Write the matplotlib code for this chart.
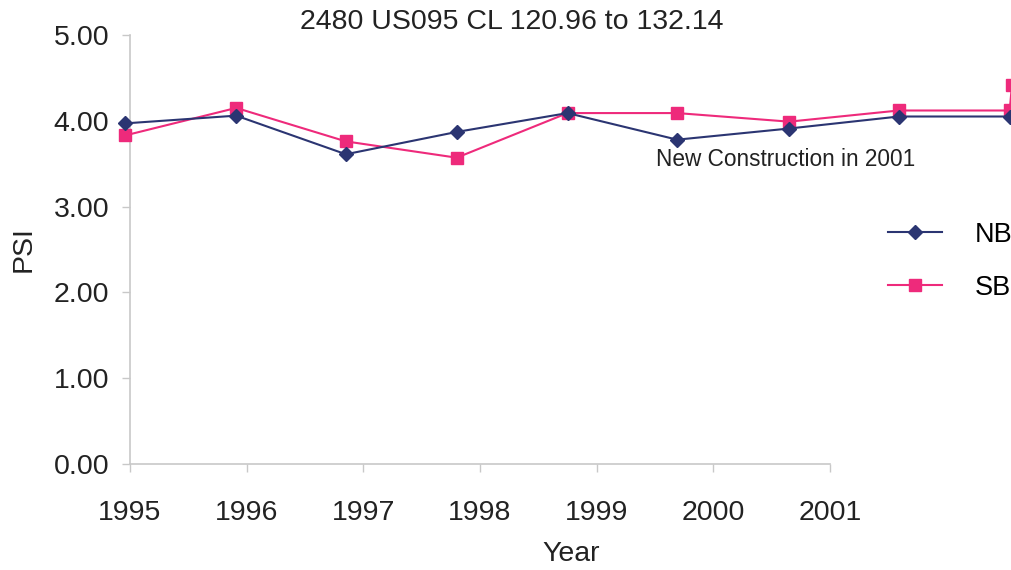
import matplotlib.pyplot as plt

plt.rcParams['font.family'] = ['Liberation Sans', 'DejaVu Sans']

# survey dates (fractional years) and PSI values
nb_x = [1994.96, 1995.91, 1996.85, 1997.80, 1998.75, 1999.69, 2000.65, 2001.59, 2002.54]
nb_y = [3.97, 4.06, 3.61, 3.87, 4.09, 3.78, 3.91, 4.05, 4.05]
sb_x = [1994.96, 1995.91, 1996.85, 1997.80, 1998.75, 1999.69, 2000.65, 2001.59, 2002.54, 2002.56]
sb_y = [3.83, 4.15, 3.76, 3.57, 4.09, 4.09, 3.99, 4.12, 4.12, 4.42]
years = [1995, 1996, 1997, 1998, 1999, 2000, 2001]
yticks = [0, 1, 2, 3, 4, 5]

nb_col = '#2b3572'
sb_col = '#ee2a7b'
grey = '#c8c8c8'
txt = '#222222'

fig = plt.figure(figsize=(10.12, 5.70), dpi=100)
ax = fig.add_axes([0.1285, 0.186, 0.8715, 0.7526])

ax.plot(sb_x, sb_y, color=sb_col, lw=1.5, marker='s', ms=9, label='SB', clip_on=False, zorder=3)
ax.plot(nb_x, nb_y, color=nb_col, lw=1.5, marker='D', ms=7, label='NB', clip_on=False, zorder=4)

ax.set_xlim(1995, 2002.56)
ax.set_ylim(0, 5)
ax.set_xticks(years)
ax.set_xticklabels([str(y) for y in years])
ax.set_yticks(yticks)
ax.set_yticklabels(['%.2f' % v for v in yticks])

for s in ['top', 'right']:
    ax.spines[s].set_visible(False)
ax.spines['bottom'].set_bounds(1995, 2001)
for s in ['left', 'bottom']:
    ax.spines[s].set_color(grey)
    ax.spines[s].set_linewidth(1.2)
ax.tick_params(axis='both', direction='out', length=6, color=grey, width=1,
               labelsize=20.5, labelcolor=txt)
ax.tick_params(axis='x', pad=20)
ax.tick_params(axis='y', pad=9)

ax.set_xlabel('Year', fontsize=20.5, color=txt, labelpad=11)
ax.set_ylabel('PSI', fontsize=20.5, color=txt, labelpad=12)
fig.text(0.506, 0.962, '2480 US095 CL 120.96 to 132.14', ha='center', va='center',
         fontsize=20.5, color=txt)

ax.text(1999.51, 3.55, 'New Construction in 2001', fontsize=16.3, color=txt,
        ha='left', va='center')

h, l = ax.get_legend_handles_labels()
fig.legend([h[1], h[0]], [l[1], l[0]], loc='center left', bbox_to_anchor=(0.853, 0.542),
           frameon=False, fontsize=19.5, handlelength=2.0, labelspacing=1.0, handletextpad=1.2)

fig.savefig('out.png', dpi=100, facecolor='white')
